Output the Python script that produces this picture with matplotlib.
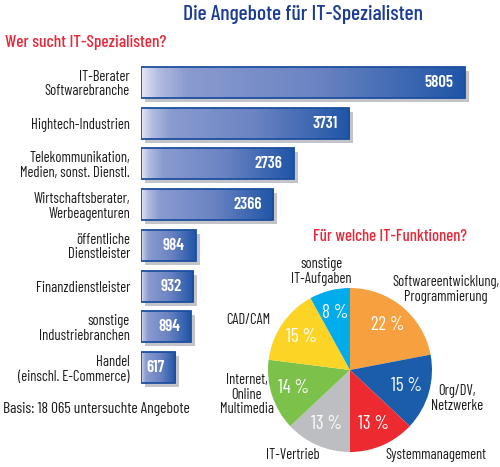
import numpy as np
import matplotlib
matplotlib.use('Agg')
import matplotlib.pyplot as plt
from matplotlib.colors import LinearSegmentedColormap
from matplotlib import transforms

branches = ['IT-Berater\nSoftwarebranche', 'Hightech-Industrien',
            'Telekommunikation,\nMedien, sonst. Dienstl.',
            'Wirtschaftsberater,\nWerbeagenturen', 'öffentliche\nDienstleister',
            'Finanzdienstleister', 'sonstige\nIndustriebranchen',
            'Handel\n(einschl. E-Commerce)']
offers = [5805, 3731, 2736, 2366, 984, 932, 894, 617]

functions = ['Softwareentwicklung,\nProgrammierung', 'Org/DV,\nNetzwerke',
             'Systemmanagement', 'IT-Vertrieb', 'Internet,\nOnline\nMultimedia',
             'CAD/CAM', 'sonstige\nIT-Aufgaben']
shares = [22, 15, 13, 13, 14, 15, 8]
pie_colors = ['#f6a040', '#1b5dab', '#ec2a30', '#bdbec2', '#7cc24a', '#fcd425', '#00acec']

# where the outer pie labels sit (pie units, radius = 1)
label_pos = [(1.17, 0.98), (1.30, -0.35), (1.05, -1.04), (-0.70, -1.04),
             (-1.26, -0.30), (-1.24, 0.61), (-0.35, 1.20)]

plt.rcParams['font.family'] = ['Barlow Condensed', 'DejaVu Sans']

W, H = 500, 467
fig = plt.figure(figsize=(5, 4.67), dpi=100)


def px(l, t, w, h):
    return [l / W, 1 - (t + h) / H, w / W, h / H]


# bars
ax = fig.add_axes(px(141, 62, 359, 326))
bar_cmap = LinearSegmentedColormap.from_list(
    'bar', [(0, '#e4e7f4'), (0.05, '#b3bde0'), (0.14, '#8a9bd0'),
            (0.55, '#6a83c2'), (1, '#1f55a7')])
grad = np.linspace(0, 1, 256).reshape(1, -1)
h = 0.76
ys = np.arange(len(offers))

shadow = ax.barh(ys, offers, height=h, color='#c3c4ca', zorder=1)
shift = transforms.ScaledTranslation(4 / 100, -4 / 100, fig.dpi_scale_trans)
for p in shadow:
    p.set_transform(ax.transData + shift)

for i, v in enumerate(offers):
    ax.imshow(grad, cmap=bar_cmap, aspect='auto', extent=(0, v, i + h / 2, i - h / 2),
              zorder=2, interpolation='bilinear')
ax.barh(ys, offers, height=h, fill=False, edgecolor='#1d4f9f', linewidth=1.3, zorder=3)

for i, v in enumerate(offers):
    ax.annotate(str(v), xy=(v, i), xytext=(-8, 0), textcoords='offset points',
                ha='right', va='center', color='white', fontsize=12, fontweight='semibold',
                zorder=4)

ax.set_xlim(0, 359 / 0.0558)
ax.set_ylim(len(offers) - 0.5, -0.5)
ax.set_yticks(ys, branches, fontsize=10.5, color='#1a1a1a')
for t in ax.get_yticklabels():
    t.set_linespacing(1.05)
ax.tick_params(axis='y', length=0, pad=8)
ax.set_xticks([])
for s in ax.spines.values():
    s.set_visible(False)

# pie
ax2 = fig.add_axes(px(268, 288, 164, 164))
wedges, texts, autotexts = ax2.pie(
    shares, colors=pie_colors, startangle=90, counterclock=False, labels=functions,
    autopct=lambda p: f'{round(p)} %', pctdistance=0.72,
    wedgeprops=dict(linewidth=0),
    textprops=dict(fontsize=10.5, color='#1a1a1a'))
for t, pos in zip(texts, label_pos):
    t.set_position(pos)
    t.set_ha('center')
    t.set_va('center')
    t.set_multialignment('center')
    t.set_linespacing(1.05)
for t in autotexts:
    t.set_color('white')
    t.set_fontsize(13.5)
ax2.set_xlim(-1, 1)
ax2.set_ylim(-1, 1)

fig.text(303 / W, 1 - 15 / H, 'Die Angebote für IT-Spezialisten', ha='center', va='center',
         fontsize=15.5, fontweight='medium', color='#1b3c94')
fig.text(5 / W, 1 - 43 / H, 'Wer sucht IT-Spezialisten?', ha='left', va='center',
         fontsize=12.5, fontweight='medium', color='#e8283a')
fig.text(390 / W, 1 - 237 / H, 'Für welche IT-Funktionen?', ha='center', va='center',
         fontsize=12, fontweight='medium', color='#e8283a')
fig.text(3 / W, 1 - 409 / H, 'Basis: 18 065 untersuchte Angebote', ha='left', va='center',
         fontsize=11.2, color='#1a1a1a')

fig.savefig('out.png', dpi=100)
